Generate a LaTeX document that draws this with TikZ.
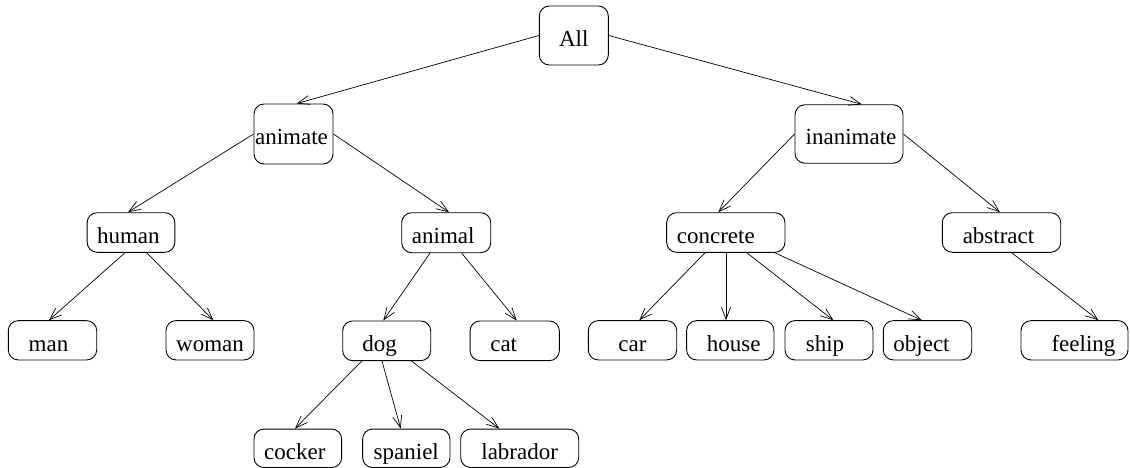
\documentclass[tikz,border=0pt]{standalone}
\usepackage{fontspec}
\setmainfont{Liberation Serif}
\usetikzlibrary{arrows.meta}
\newcommand\mytxt[2]{\hspace*{#1}\makebox[0pt]{#2}\hspace*{-#1}}
\begin{document}
\begin{tikzpicture}[x=1pt,y=-1pt,
  box/.style={draw, rounded corners=10pt, inner sep=0pt, line width=0.9pt,
    text height=21.6pt, text depth=0pt, font=\fontsize{23}{26}\selectfont},
  arr/.style={line width=0.7pt, -{Straight Barb[length=12pt,width=9pt,line width=0.7pt]}}]
\useasboundingbox (0,0) rectangle (1130,468);
% level 0
\node[box, minimum width=69pt, minimum height=59pt] (all) at (573.8,35.5) {All};
% level 1
\node[box, minimum width=79pt, minimum height=60pt] (animate) at (293.5,134) {\mytxt{-2pt}{animate}};
\node[box, minimum width=108pt, minimum height=58.5pt] (inanimate) at (849,134) {\mytxt{2pt}{inanimate}};
% level 2
\node[box, minimum width=87.7pt, minimum height=39.6pt] (human) at (131,232.5) {\mytxt{-2.7pt}{human}};
\node[box, minimum width=89pt, minimum height=40pt] (animal) at (446.2,232.7) {\mytxt{-3pt}{animal}};
\node[box, minimum width=118.3pt, minimum height=39.6pt] (concrete) at (725.8,232.5) {\mytxt{-10pt}{concrete}};
\node[box, minimum width=118.4pt, minimum height=39.6pt] (abstract) at (1001.5,232.5) {\mytxt{-3pt}{abstract}};
% level 3
\node[box, minimum width=88.4pt, minimum height=39.3pt] (man) at (52.5,340.3) {\mytxt{-4pt}{man}};
\node[box, minimum width=88pt, minimum height=39.3pt] (woman) at (210,340.3) {woman};
\node[box, minimum width=88pt, minimum height=39.7pt] (dog) at (386.7,340.8) {\mytxt{-7pt}{dog}};
\node[box, minimum width=89.3pt, minimum height=39.7pt] (cat) at (514.7,340.8) {\mytxt{-11pt}{cat}};
\node[box, minimum width=88.4pt, minimum height=39.3pt] (car) at (632.5,340.3) {car};
\node[box, minimum width=87.3pt, minimum height=39.3pt] (house) at (730.3,340.3) {\mytxt{3.5pt}{house}};
\node[box, minimum width=88pt, minimum height=39.3pt] (ship) at (829,340.3) {\mytxt{-4pt}{ship}};
\node[box, minimum width=88.4pt, minimum height=39.3pt] (object) at (927.5,340.3) {\mytxt{-6pt}{object}};
\node[box, minimum width=107pt, minimum height=39.3pt] (feeling) at (1074.5,340.3) {\mytxt{9pt}{feeling}};
% level 4
\node[box, minimum width=87.7pt, minimum height=38.5pt] (cocker) at (297.8,448.3) {\mytxt{-3pt}{cocker}};
\node[box, minimum width=87.3pt, minimum height=38.5pt] (spaniel) at (406.3,448.3) {spaniel};
\node[box, minimum width=118pt, minimum height=38.5pt] (labrador) at (519.7,448.3) {labrador};
% connectors
\draw[arr] (all.west) -- ([xshift=3.2pt]animate.north);
\draw[arr] (all.east) -- ([xshift=12.7pt]inanimate.north);
\draw[arr] (animate.west) -- ([xshift=-3pt]human.north);
\draw[arr] (animate.east) -- ([xshift=2.8pt]animal.north);
\draw[arr] (inanimate.west) -- ([xshift=-7.5pt]concrete.north);
\draw[arr] (inanimate.east) -- ([xshift=-1.5pt]abstract.north);
\draw[arr] ([xshift=-6pt]human.south) -- ([xshift=-3.5pt]man.north);
\draw[arr] ([xshift=15.7pt]human.south) -- ([xshift=3.3pt]woman.north);
\draw[arr] ([xshift=-16.2pt]animal.south) -- ([xshift=-3.4pt]dog.north);
\draw[arr] ([xshift=15.5pt]animal.south) -- ([xshift=2pt]cat.north);
\draw[arr] ([xshift=-25pt]dog.south) -- ([xshift=-2.8pt]cocker.north);
\draw[arr] ([xshift=-4.7pt]dog.south) -- ([xshift=-5.6pt]spaniel.north);
\draw[arr] ([xshift=25pt]dog.south) -- ([xshift=-20.4pt]labrador.north);
\draw[arr] ([xshift=-20.8pt]concrete.south) -- ([xshift=6.8pt]car.north);
\draw[arr] ([xshift=0.2pt]concrete.south) -- ([xshift=-4.3pt]house.north);
\draw[arr] ([xshift=21pt]concrete.south) -- ([xshift=4.3pt]ship.north);
\draw[arr] ([xshift=49pt]concrete.south) -- ([xshift=-5.8pt]object.north);
\draw[arr] ([xshift=10.2pt]abstract.south) -- ([xshift=23.8pt]feeling.north);
\end{tikzpicture}
\end{document}
